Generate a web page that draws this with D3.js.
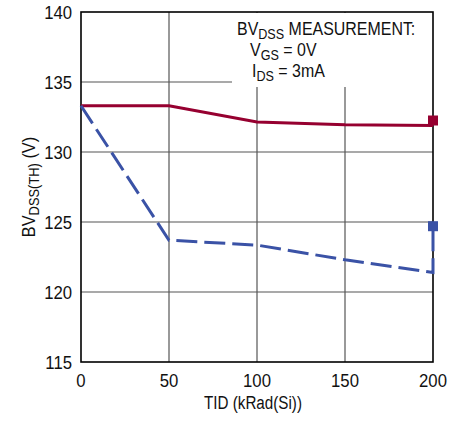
<!DOCTYPE html>
<html>
<head>
<meta charset="utf-8">
<script src="https://cdn.jsdelivr.net/npm/d3@7"></script>
<style>
  body { margin: 0; background: #fff; }
  text { font-family: "Liberation Sans", Arial, sans-serif; fill: #111; }
</style>
</head>
<body>
<div id="chart"></div>
<script>
// TID dose points (kRad(Si))
const tid = [0, 50, 100, 150, 200];
// solid red and dashed blue curves
const redVals = [133.3, 133.3, 132.15, 131.95, 131.9];
const blueVals = [133.3, 123.7, 123.35, 122.3, 121.4];
// end markers
const redMark = [200, 132.25];
const blueMark = [200, 124.7];
const xTicks = [0, 50, 100, 150, 200];
const yTicks = [115, 120, 125, 130, 135, 140];

const width = 450, height = 422,
  margin = ({ top: 12, right: 17, bottom: 60, left: 81 });

const x = d3.scaleLinear()
  .domain([0, 200])
  .range([margin.left, width - margin.right]);

const y = d3.scaleLinear()
  .domain([115, 140])
  .range([height - margin.bottom, margin.top]);

const svg = d3.select("#chart")
  .append("svg")
  .attr("width", width)
  .attr("height", height);

// condensed text: no narrow font here, so squeeze horizontally
function label(px, py, anchor, sx, size, rot) {
  const g = svg.append("g")
    .attr("transform", `translate(${px},${py})` + (rot ? ` rotate(${rot})` : "") + ` scale(${sx},1)`);
  return g.append("text")
    .attr("text-anchor", anchor)
    .attr("font-size", size);
}

// grid
svg.append("g")
  .selectAll("line")
  .data(xTicks.slice(1, -1))
  .join("line")
  .attr("x1", d => x(d)).attr("x2", d => x(d))
  .attr("y1", y(140)).attr("y2", y(115))
  .attr("stroke", "#555").attr("stroke-width", 1.2);

svg.append("g")
  .selectAll("line")
  .data(yTicks.slice(1, -1))
  .join("line")
  .attr("x1", x(0)).attr("x2", x(200))
  .attr("y1", d => y(d)).attr("y2", d => y(d))
  .attr("stroke", "#555").attr("stroke-width", 1.2);

// white box behind the note
svg.append("rect")
  .attr("x", 232).attr("y", y(140) + 1)
  .attr("width", x(200) - 232).attr("height", 74)
  .attr("fill", "#fff");

// frame
svg.append("rect")
  .attr("x", x(0)).attr("y", y(140))
  .attr("width", x(200) - x(0)).attr("height", y(115) - y(140))
  .attr("fill", "none").attr("stroke", "#000").attr("stroke-width", 1.6);

// tick labels
xTicks.forEach(d => {
  label(x(d), height - margin.bottom + 25, "middle", 0.88, 19).text(d);
});
yTicks.forEach(d => {
  label(margin.left - 9, y(d) + 7, "end", 0.88, 19).text(d);
});

// axis titles
label((x(0) + x(200)) / 2 - 4, 409, "middle", 0.8, 19).text("TID (kRad(Si))");

const yl = label(35, (y(115) + y(140)) / 2, "middle", 0.86, 19, -90);
yl.append("tspan").text("BV");
yl.append("tspan").attr("font-size", 15).attr("dy", 4).text("DSS(TH)");
yl.append("tspan").attr("dy", -4).text(" (V)");

// note
const note = [
  { x: 237, y: 35, a: "BV", s: "DSS", b: " MEASUREMENT:" },
  { x: 250, y: 56, a: "V", s: "GS", b: " = 0V" },
  { x: 252, y: 77, a: "I", s: "DS", b: " = 3mA" }
];
note.forEach(n => {
  const t = label(n.x, n.y, "start", 0.84, 19);
  t.append("tspan").text(n.a);
  t.append("tspan").attr("font-size", 15).attr("dy", 4).text(n.s);
  t.append("tspan").attr("dy", -4).text(n.b);
});

const line = d3.line().x(d => x(d[0])).y(d => y(d[1]));

const redPts = tid.map((t, i) => [t, redVals[i]]);
const bluePts = tid.map((t, i) => [t, blueVals[i]]).concat([blueMark]);

svg.append("path")
  .attr("d", line(redPts))
  .attr("fill", "none")
  .attr("stroke", "#960030")
  .attr("stroke-width", 3);

svg.append("path")
  .attr("d", line(bluePts))
  .attr("fill", "none")
  .attr("stroke", "#3a52a6")
  .attr("stroke-width", 3)
  .attr("stroke-dasharray", "21,7");

const ms = 10;
svg.append("rect")
  .attr("x", x(redMark[0]) - ms / 2).attr("y", y(redMark[1]) - ms / 2)
  .attr("width", ms).attr("height", ms)
  .attr("fill", "#960030");

svg.append("rect")
  .attr("x", x(blueMark[0]) - ms / 2).attr("y", y(blueMark[1]) - ms / 2)
  .attr("width", ms).attr("height", ms)
  .attr("fill", "#3a52a6");
</script>
</body>
</html>
